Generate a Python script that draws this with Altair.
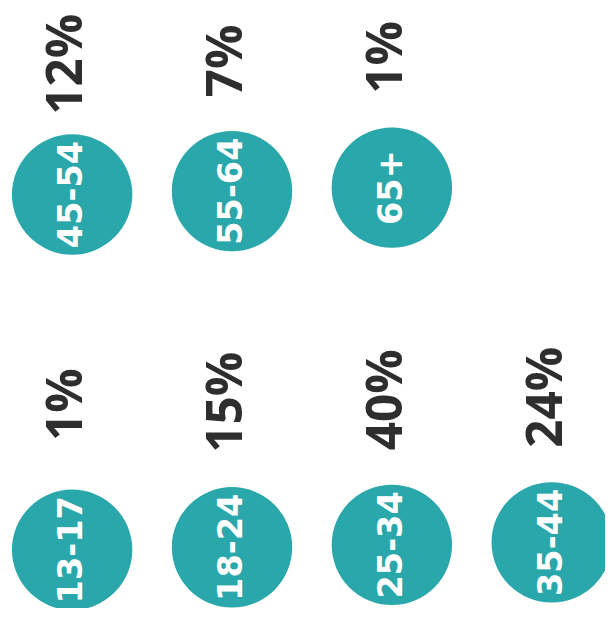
import altair as alt
import pandas as pd

# Data
age_groups = ["13-17", "18-24", "25-34", "35-44", "45-54", "55-64", "65+"]
shares = [1, 15, 40, 24, 12, 7, 1]
grid_row = [1, 1, 1, 1, 0, 0, 0]
grid_col = [0, 1, 2, 3, 0, 1, 2]

df = pd.DataFrame({"age": age_groups, "share": shares, "row": grid_row, "col": grid_col})
df["pct"] = df["share"].astype(str) + "%"

# layout (pixel-like coordinates)
df["cx"] = 73 + 162 * df["col"]
df["cy"] = df.apply(lambda r: (193 - 3.5 * r["col"]) if r["row"] == 0 else (553 - 2.5 * r["col"]), axis=1)
df["lx"] = df["cx"] - 5
df["ly"] = df.apply(lambda r: r["cy"] - (132 if r["row"] == 0 else 147), axis=1)

W, H = 605, 604
xs = alt.Scale(domain=[8, 8 + W], nice=False, zero=False)
ys = alt.Scale(domain=[8 + H, 8], nice=False, zero=False)

base = alt.Chart(df)

circles = base.mark_circle(size=14884, opacity=1, color="#2aa7aa", clip=True).encode(
    x=alt.X("cx:Q", scale=xs, axis=None),
    y=alt.Y("cy:Q", scale=ys, axis=None),
)

inner = base.mark_text(
    angle=270, align="center", baseline="middle", color="white",
    font="DejaVu Sans", fontWeight="bold", fontSize=34, clip=True,
).encode(
    x=alt.X("cx:Q", scale=xs, axis=None),
    y=alt.Y("cy:Q", scale=ys, axis=None),
    text="age:N",
)

pct = base.mark_text(
    angle=270, align="center", baseline="middle", color="#2e2e2e",
    font="Open Sans", fontWeight="bold", fontSize=50, clip=True,
).encode(
    x=alt.X("lx:Q", scale=xs, axis=None),
    y=alt.Y("ly:Q", scale=ys, axis=None),
    text="pct:N",
)

chart = (circles + inner + pct).properties(
    width=W, height=H, padding=0, background="white"
).configure_view(stroke=None)

chart.save("out.html", embed_options={"renderer": "svg", "actions": False})
